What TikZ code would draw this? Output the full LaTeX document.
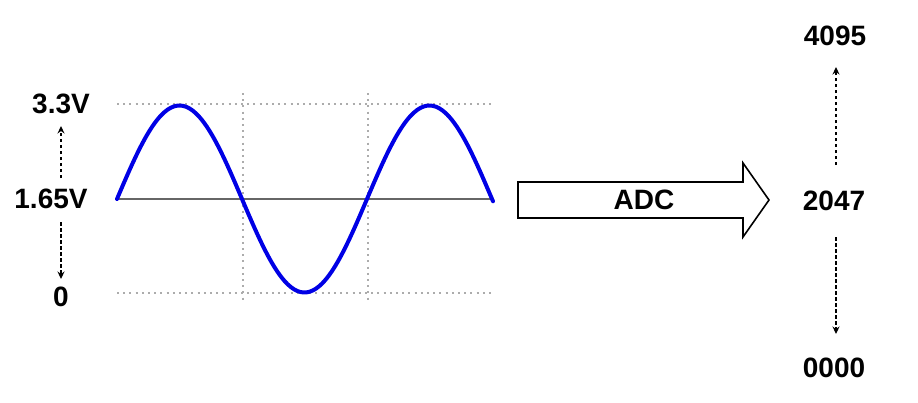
\documentclass[tikz,border=0pt]{standalone}
\usepackage{fontspec}
\setmainfont{Liberation Sans}
\usetikzlibrary{arrows.meta}
\begin{document}
\begin{tikzpicture}[x=1pt,y=-1pt,
  lbl/.style={font=\fontsize{28}{30}\selectfont\bfseries, inner sep=0pt, text=black},
  gridline/.style={draw=gray!65, line width=2.2pt, dash pattern=on 2pt off 4.2pt},
  darr/.style={line width=1.9pt, dash pattern=on 3.5pt off 2.5pt, -{Stealth[length=7.5pt,width=7pt]}},
  wave/.style={draw=blue!90!black, line width=4pt, line cap=round},
  adcarrow/.style={draw=black, line width=1.6pt, fill=white, line join=miter}]
\useasboundingbox (0,0) rectangle (918,402);
% grid
\coordinate (gTL) at (117,104);
\coordinate (gTR) at (495,104);
\coordinate (gBL) at (117,293);
\coordinate (gBR) at (495,293);
\coordinate (v1t) at (243,93);
\coordinate (v1b) at (243,303);
\coordinate (v2t) at (368,93);
\coordinate (v2b) at (368,303);
\draw[gridline] (gTL) -- (gTR);
\draw[gridline] (gBL) -- (gBR);
\draw[gridline] (v1t) -- (v1b);
\draw[gridline] (v2t) -- (v2b);
\coordinate (mL) at (117,199);
\coordinate (mR) at (493,199);
\draw[draw=gray!80!black, line width=2pt] (mL) -- (mR);
% sine wave
\draw[wave] plot[domain=117:493, samples=120, smooth] (\x, {199-93.5*sin((\x-117)/250*360)});
% left labels
\node[lbl] (v33) at (61,104) {3.3V};
\node[lbl] (v165) at (51,199) {1.65V};
\node[lbl] (v0) at (61,297) {0};
\coordinate (la1) at (61,178);
\coordinate (la2) at (61,126);
\coordinate (lb1) at (61,222);
\coordinate (lb2) at (61,279);
\draw[darr] (la1) -- (la2);
\draw[darr] (lb1) -- (lb2);
% ADC arrow
\coordinate (a1) at (518,182);
\coordinate (a2) at (743,182);
\coordinate (a3) at (743,163);
\coordinate (a4) at (769,200);
\coordinate (a5) at (743,237);
\coordinate (a6) at (743,218);
\coordinate (a7) at (518,218);
\draw[adcarrow] (a1) -- (a2) -- (a3) -- (a4) -- (a5) -- (a6) -- (a7) -- cycle;
\node[lbl] (adc) at (644,200) {ADC};
% right labels
\node[lbl] (d4095) at (835,36) {4095};
\node[lbl] (d2047) at (834,201) {2047};
\node[lbl] (d0000) at (834,368) {0000};
\coordinate (ra1) at (836,165);
\coordinate (ra2) at (836,67);
\coordinate (rb1) at (836,237);
\coordinate (rb2) at (836,334);
\draw[darr] (ra1) -- (ra2);
\draw[darr] (rb1) -- (rb2);
\end{tikzpicture}
\end{document}
